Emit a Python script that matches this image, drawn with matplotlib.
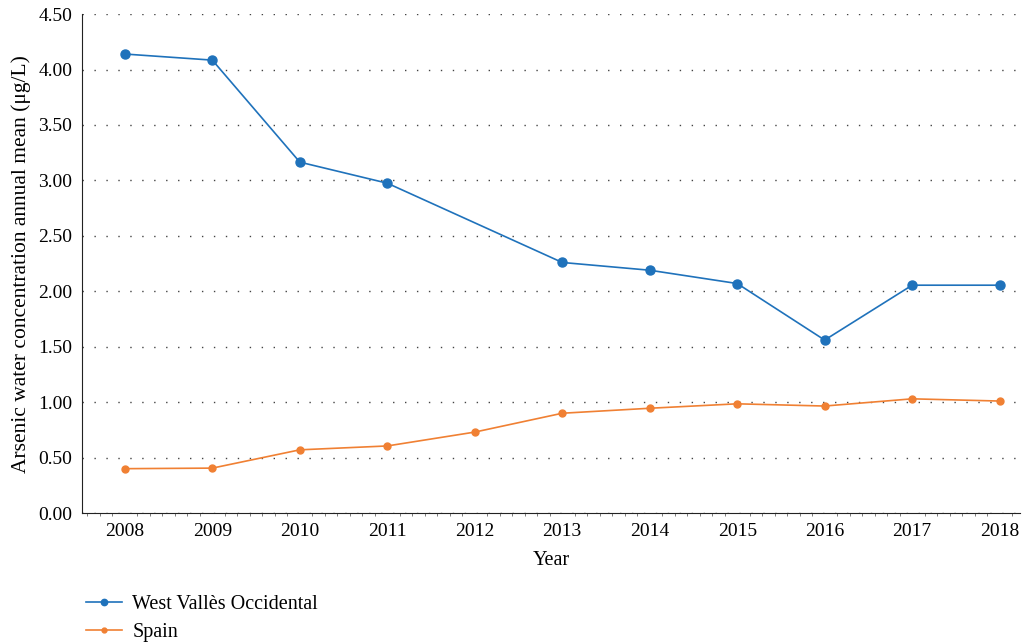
import matplotlib
matplotlib.use("Agg")
import matplotlib.pyplot as plt
from matplotlib.ticker import MultipleLocator, FormatStrFormatter

plt.rcParams['font.family'] = ['Liberation Serif', 'DejaVu Serif']

# datos (2012 sin valor para West Vallès)
anos_west = [2008, 2009, 2010, 2011, 2013, 2014, 2015, 2016, 2017, 2018]
west = [4.14, 4.085, 3.165, 2.975, 2.26, 2.19, 2.07, 1.56, 2.055, 2.055]
anos_spain = [2008, 2009, 2010, 2011, 2012, 2013, 2014, 2015, 2016, 2017, 2018]
spain = [0.40, 0.405, 0.57, 0.605, 0.73, 0.90, 0.945, 0.985, 0.965, 1.03, 1.01]

azul = '#1f72bb'
naranja = '#f08033'

fig = plt.figure(figsize=(10.29, 6.42), dpi=100)
ax = fig.add_axes([0.0797, 0.2009, 0.9113, 0.7771])

l1, = ax.plot(anos_west, west, color=azul, lw=1.2, marker='o', ms=6.5, label='West Vallès Occidental')
l2, = ax.plot(anos_spain, spain, color=naranja, lw=1.2, marker='o', ms=5, label='Spain')

ax.set_xlim(2007.51, 2018.23)
ax.set_ylim(0, 4.5)
ax.yaxis.set_major_locator(MultipleLocator(0.5))
ax.yaxis.set_major_formatter(FormatStrFormatter('%.2f'))
ax.set_xticks(anos_spain)
ax.xaxis.set_minor_locator(MultipleLocator(1 / 7))
ax.tick_params(axis='x', which='major', length=0, labelsize=14, pad=7)
ax.tick_params(axis='x', which='minor', length=2.5, color='#666666')
ax.tick_params(axis='y', length=0, labelsize=14, pad=7)
ax.grid(axis='y', linestyle=(0, (1, 7.6)), color='#444444', lw=1)
ax.set_axisbelow(True)
for s in ['top', 'right']:
    ax.spines[s].set_visible(False)
ax.spines['left'].set_color('#222222')
ax.spines['bottom'].set_color('#222222')

ax.set_xlabel('Year', fontsize=14.5, labelpad=8)
ax.set_ylabel('Arsenic water concentration annual mean (μg/L)', fontsize=15.5, labelpad=5)

fig.legend(handles=[l1, l2], loc='upper left', bbox_to_anchor=(0.066, 0.102), frameon=False,
           fontsize=14.5, handlelength=1.8, handletextpad=0.5, labelspacing=0.45, markerscale=0.7)

fig.savefig('out.png', dpi=100)
